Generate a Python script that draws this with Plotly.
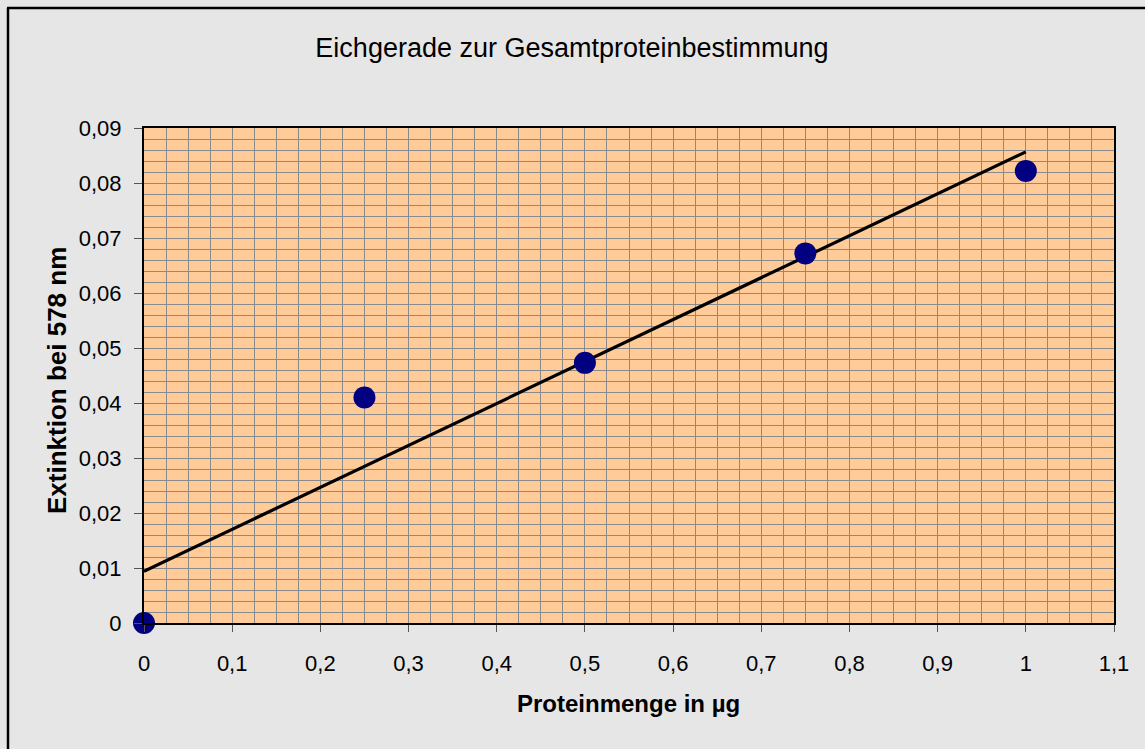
import numpy as np
import plotly.graph_objects as go

# Data
protein_ug = [0, 0.25, 0.5, 0.75, 1.0]
extinktion = [0.0, 0.041, 0.0473, 0.0672, 0.0822]

title_text = "Eichgerade zur Gesamtproteinbestimmung"
x_title = "Proteinmenge in µg"
y_title = "Extinktion bei 578 nm"

x_ticks = [0, 0.1, 0.2, 0.3, 0.4, 0.5, 0.6, 0.7, 0.8, 0.9, 1.0, 1.1]
x_ticklabels = ["0", "0,1", "0,2", "0,3", "0,4", "0,5", "0,6", "0,7", "0,8", "0,9", "1", "1,1"]
y_ticks = [0, 0.01, 0.02, 0.03, 0.04, 0.05, 0.06, 0.07, 0.08, 0.09]
y_ticklabels = ["0", "0,01", "0,02", "0,03", "0,04", "0,05", "0,06", "0,07", "0,08", "0,09"]

# linear trendline (least squares)
slope, intercept = np.polyfit(protein_ug, extinktion, 1)
fit_x = [min(protein_ug), max(protein_ug)]
fit_y = [slope * v + intercept for v in fit_x]

FONT = "Liberation Sans, Arial, sans-serif"
GRID = "#8a8a8a"

fig = go.Figure()
fig.add_trace(go.Scatter(x=fit_x, y=fit_y, mode="lines",
                         line=dict(color="black", width=3.2),
                         hoverinfo="skip", showlegend=False))
fig.add_trace(go.Scatter(x=protein_ug, y=extinktion, mode="markers",
                         marker=dict(color="#000080", size=22,
                                     line=dict(color="#000080", width=0)),
                         cliponaxis=False, showlegend=False))

axis_common = dict(showline=True, linecolor="black", linewidth=2, mirror=True,
                   ticks="outside", tickcolor="#555555", tickwidth=1,
                   showgrid=True, gridcolor=GRID, gridwidth=1, zeroline=False,
                   tickfont=dict(family=FONT, size=22, color="black"))

fig.update_xaxes(range=[0, 1.1], tickvals=x_ticks, ticktext=x_ticklabels,
                 ticklen=7, ticklabelstandoff=13,
                 minor=dict(dtick=0.025, tick0=0, showgrid=True, gridcolor=GRID, gridwidth=1, ticks=""),
                 **axis_common)
fig.update_yaxes(range=[0, 0.09], tickvals=y_ticks, ticktext=y_ticklabels,
                 ticklen=8, ticklabelstandoff=8,
                 minor=dict(dtick=0.002, tick0=0, showgrid=True, gridcolor=GRID, gridwidth=1, ticks=""),
                 **axis_common)

L, R, T, B = 144, 31, 128, 126
W, H = 1145, 749
pw, ph = W - L - R, H - T - B

def px_x(px):
    return (px - L) / pw

def px_y(py):
    return (H - B - py) / ph

fig.update_layout(
    width=W, height=H,
    margin=dict(l=L, r=R, t=T, b=B),
    paper_bgcolor="#e6e6e6",
    plot_bgcolor="#ffcc99",
    title=dict(text=title_text, x=px_x(572) * pw / W + L / W, xanchor="center", y=1 - 48 / H, yanchor="middle",
               font=dict(family=FONT, size=27, color="black")),
    annotations=[
        dict(text=x_title, xref="paper", yref="paper", x=px_x(628), y=px_y(703),
             xanchor="center", yanchor="middle", showarrow=False,
             font=dict(family=FONT, size=24, color="black", weight="bold")),
        dict(text=y_title, xref="paper", yref="paper", x=px_x(57), y=px_y(381),
             xanchor="center", yanchor="middle", showarrow=False, textangle=-90,
             font=dict(family=FONT, size=26, color="black", weight="bold")),
    ],
    shapes=[
        dict(type="line", xref="paper", yref="paper", x0=px_x(8), x1=px_x(8),
             y0=px_y(8), y1=px_y(H + 5), line=dict(color="black", width=2.5)),
        dict(type="line", xref="paper", yref="paper", x0=px_x(7), x1=px_x(W + 5),
             y0=px_y(8), y1=px_y(8), line=dict(color="black", width=2.5)),
    ],
)

fig.write_html("out.html")
